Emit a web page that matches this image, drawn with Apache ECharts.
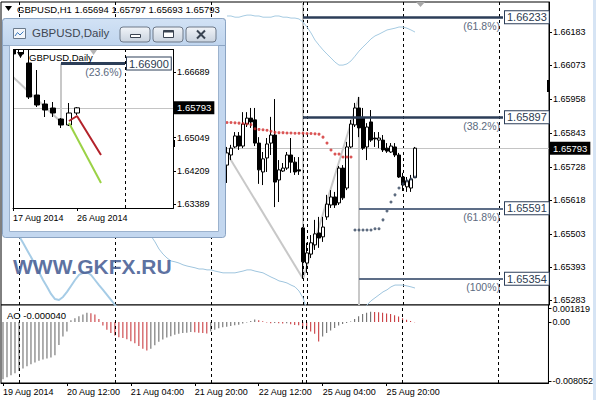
<!DOCTYPE html>
<html><head><meta charset="utf-8">
<script src="https://cdn.jsdelivr.net/npm/echarts@6/dist/echarts.min.js"></script>
<style>html,body{margin:0;padding:0;background:#fff}#c{width:596px;height:400px}</style>
</head><body><div id="c"></div>
<script>
// ================= H1 chart data =================
const h1Count = 137;
const h1Categories = Array.from({length: h1Count}, (_, i) => 'H' + i);
const xTickIndex = [0, 16, 32, 48, 64, 80, 96];
const xTickText = ['19 Aug 2014', '20 Aug 12:00', '21 Aug 04:00', '21 Aug 20:00', '22 Aug 12:00', '25 Aug 04:00', '25 Aug 20:00'];
const separatorIndex = [4, 28, 52, 75, 76, 100, 124];
const priceTicks = [1.66183, 1.66073, 1.65958, 1.65843, 1.65728, 1.65618, 1.65503, 1.65393, 1.65283];
const lastPrice = 1.65793;

const firstBar = 56;
const h1Open  = [1.65736,1.65770,1.65797,1.65834,1.65800,1.65874,1.65894,1.65888,1.65810,1.65713,1.65760,1.65810,1.65837,1.65686,1.65716,1.65726,1.65770,1.65746,1.65720,1.65525,1.65407,1.65437,1.65468,1.65508,1.65495,1.65562,1.65602,1.65629,1.65609,1.65726,1.65659,1.65797,1.65871,1.65928,1.65894,1.65797,1.65881,1.65827,1.65820,1.65820,1.65793,1.65780,1.65797,1.65770,1.65696,1.65663,1.65659,1.65694];
const h1Close = [1.65777,1.65793,1.65834,1.65800,1.65874,1.65894,1.65881,1.65810,1.65720,1.65757,1.65807,1.65837,1.65679,1.65720,1.65726,1.65770,1.65746,1.65713,1.65716,1.65411,1.65441,1.65475,1.65505,1.65491,1.65528,1.65605,1.65629,1.65602,1.65726,1.65626,1.65797,1.65874,1.65928,1.65861,1.65793,1.65864,1.65820,1.65824,1.65827,1.65787,1.65783,1.65800,1.65770,1.65696,1.65669,1.65683,1.65689,1.65793];
const h1Low   = [1.65676,1.65753,1.65793,1.65787,1.65793,1.65864,1.65861,1.65800,1.65673,1.65669,1.65713,1.65770,1.65595,1.65612,1.65713,1.65720,1.65710,1.65703,1.65703,1.65354,1.65374,1.65424,1.65451,1.65458,1.65478,1.65552,1.65592,1.65592,1.65602,1.65619,1.65652,1.65793,1.65864,1.65830,1.65787,1.65753,1.65814,1.65797,1.65793,1.65780,1.65777,1.65777,1.65763,1.65693,1.65649,1.65646,1.65646,1.65693];
const h1High  = [1.65797,1.65804,1.65847,1.65847,1.65914,1.65914,1.65928,1.65928,1.65830,1.65780,1.65827,1.65898,1.65958,1.65753,1.65743,1.65780,1.65827,1.65763,1.65763,1.65528,1.65475,1.65501,1.65552,1.65562,1.65562,1.65636,1.65652,1.65646,1.65733,1.65736,1.65814,1.65888,1.65945,1.65965,1.65928,1.65877,1.65921,1.65847,1.65847,1.65837,1.65810,1.65810,1.65810,1.65777,1.65710,1.65696,1.65703,1.65797];

// Parabolic SAR dots
const sarRedStart = 56;
const sarRed = [1.65879,1.65879,1.65878,1.65877,1.65876,1.65874,1.65872,1.65858,1.65856,1.65855,1.65853,1.65850,1.65846,1.65845,1.65845,1.65844,1.65844,1.65843,1.65843,1.65843,1.65842,1.65842,1.65841,1.65840,1.65830,1.65810,1.65787,1.65773,1.65773,1.65763,1.65763,1.65763];
const sarBlueStart = 88;
const sarBlue = [1.65518,1.65518,1.65518,1.65518,1.65518,1.65522,1.65522,1.65552,1.65582,1.65612,1.65636,1.65659,1.65673,1.65683,1.65689,1.65696];

// band lines
const upperBandStart = 56;
const upperBand = [1.66237,1.66237,1.66233,1.66233,1.66237,1.66240,1.66240,1.66237,1.66237,1.66233,1.66233,1.66233,1.66237,1.66237,1.66233,1.66233,1.66230,1.66230,1.66227,1.66217,1.66200,1.66180,1.66156,1.66139,1.66123,1.66109,1.66096,1.66082,1.66072,1.66072,1.66076,1.66086,1.66102,1.66119,1.66133,1.66146,1.66160,1.66170,1.66176,1.66183,1.66190,1.66193,1.66196,1.66200,1.66200,1.66196,1.66190,1.66183];
const bandAStart = 3;
const bandA = [1.65521,1.65498,1.65475,1.65451,1.65427,1.65401,1.65377,1.65350,1.65327,1.65303,1.65286,1.65283,1.65293,1.65310,1.65330,1.65350,1.65367,1.65374,1.65377,1.65367,1.65350,1.65333,1.65317,1.65300,1.65283,1.65266,1.65246];
const bandBStart = 36;
const bandB = [1.65521,1.65498,1.65478,1.65454,1.65437,1.65424,1.65414,1.65411,1.65407,1.65401,1.65397,1.65394,1.65391,1.65387,1.65387,1.65384,1.65384,1.65380,1.65377,1.65374,1.65374,1.65374,1.65374,1.65377,1.65380,1.65384,1.65384,1.65380,1.65377,1.65374,1.65367,1.65360,1.65354,1.65347,1.65344,1.65340,1.65333,1.65327,1.65313,1.65290,1.65250,1.65223,1.65203,1.65189,1.65179,1.65172,1.65169,1.65169,1.65172,1.65179,1.65189,1.65203,1.65219,1.65236,1.65253,1.65266,1.65280,1.65290,1.65300,1.65310,1.65317,1.65327,1.65333,1.65333,1.65333,1.65330,1.65327,1.65323];

// Fibonacci objects
const fibPrices = [1.66233, 1.65897, 1.65591, 1.65354];
const fibTexts  = ['(61.8%)', '(38.2%)', '(61.8%)', '(100%)'];
const fibStart  = [75, 75, 89, 89];
const fibEnd = 125;
const swingPrevHigh = [55, 1.65797];
const swingLow  = [75, 1.65354];
const swingHigh = [89, 1.65965];

// Awesome Oscillator
const aoTicks = [0.001819, 0, -0.008052];
const aoTickText = ['0.001819', '0.00', '-0.008052'];
const aoValues = [-0.00780,-0.00753,-0.00725,-0.00698,-0.00666,-0.00633,-0.00601,-0.00574,-0.00551,-0.00528,-0.00509,-0.00496,-0.00482,-0.00454,-0.00312,-0.00197,-0.00129,0.00023,0.00050,0.00078,0.00101,0.00124,0.00119,0.00101,0.00041,-0.00050,-0.00106,-0.00151,-0.00184,-0.00207,-0.00220,-0.00234,-0.00262,-0.00289,-0.00326,-0.00363,-0.00390,-0.00363,-0.00317,-0.00271,-0.00239,-0.00211,-0.00193,-0.00174,-0.00161,-0.00151,-0.00147,-0.00138,-0.00142,-0.00147,-0.00151,-0.00156,-0.00129,-0.00106,-0.00087,-0.00073,-0.00064,-0.00055,-0.00046,-0.00037,-0.00023,-0.00009,0.00014,0.00032,0.00023,0.00009,-0.00009,-0.00018,-0.00014,-0.00018,-0.00023,-0.00018,-0.00032,-0.00041,-0.00046,-0.00083,-0.00106,-0.00129,-0.00161,-0.00266,-0.00197,-0.00151,-0.00115,-0.00083,-0.00050,-0.00028,-0.00014,0.00005,0.00041,0.00078,0.00106,0.00124,0.00138,0.00135,0.00133,0.00124,0.00115,0.00106,0.00092,0.00073,0.00050,0.00028,0.00014,-0.00004];

// ================= Daily inset data =================
const dailyCategories = Array.from({length: 21}, (_, i) => 'D' + i);
const dTickIndex = [0, 8];
const dTickText = ['17 Aug 2014', '26 Aug 2014'];
const dPriceTicks = [1.66689, 1.65049, 1.64209, 1.63389];
const dOpen  = [1.67450,1.67139,1.66914,1.66114,1.65889,1.65789,1.65514,1.65364,1.65664];
const dClose = [1.67140,1.67400,1.66064,1.65864,1.65739,1.65664,1.65364,1.65664,1.65793];
const dLow   = [1.67120,1.67050,1.66014,1.65814,1.65564,1.65564,1.65289,1.65339,1.65614];
const dHigh  = [1.67500,1.67450,1.67239,1.66739,1.65989,1.65939,1.65539,1.65914,1.65814];
const dRedLine   = [null,null,null,null,null,null,null,1.65464,1.65589,null,null,1.64614];
const dGreenLine = [null,null,null,null,null,null,null,1.65414,null,null,null,1.63914];
const dFibPrice = 1.66900, dFibText = '(23.6%)', dFibStart = 6, dFibEnd = 14;
const dSwingTop = [0, 1.66564], dSwingLow = [6, 1.65439];
const dSeparator = 14;

// ================= build =================
const FONT = 'Liberation Sans';
function pad(start, arr, total) {
  const out = new Array(total).fill('-');
  arr.forEach((v, k) => { if (v !== null) out[start + k] = v; });
  return out;
}
const candleData = h1Categories.map((_, i) => {
  const k = i - firstBar;
  if (k < 0 || k >= h1Open.length) return ['-','-','-','-'];
  return [h1Open[k], h1Close[k], h1Low[k], h1High[k]];
});
const dCandleData = dOpen.map((o, k) => [o, dClose[k], dLow[k], dHigh[k]]);
const aoData = aoValues.map((v, i) => ({value: v, itemStyle: {color: (i > 0 && v < aoValues[i - 1]) ? '#c42a2f' : '#606060'}}));

const boxLabel = (txt) => ({show: true, position: 'end', distance: 2, formatter: txt, color: '#2b3a50', fontSize: 11, fontFamily: FONT,
  backgroundColor: '#fff', borderColor: '#2c3e58', borderWidth: 1, padding: [1, 2, 0, 2]});
const pctLabel = (txt) => ({show: true, position: 'insideEndBottom', distance: 3, formatter: txt, color: '#5b6a7e', fontSize: 10.5, fontFamily: FONT});
const hiddenLine = {color: 'rgba(0,0,0,0)', width: 1, type: 'solid'};

const fibData = [];
fibPrices.forEach((p, k) => {
  const col = k < 2 ? '#2c3e58' : '#5d6d87';
  fibData.push([{coord: [fibStart[k], p], lineStyle: {color: col, width: k < 2 ? 2.5 : 2, type: 'solid'}, label: boxLabel(p.toFixed(5))}, {coord: [fibEnd, p]}]);
  fibData.push([{coord: [fibStart[k], p], lineStyle: hiddenLine, label: pctLabel(fibTexts[k])}, {coord: [fibEnd, p]}]);
});
const gray = {color: '#c8c8c8', width: 2, type: 'solid'};
const dash = {color: '#000', width: 1, type: [3, 3]};
const bgLineData = [
  [{coord: [swingLow[0], 1.66284], lineStyle: gray}, {coord: swingLow}],
  [{coord: swingHigh, lineStyle: gray}, {coord: [swingHigh[0], 1.65266]}],
  [{coord: swingPrevHigh, lineStyle: gray}, {coord: swingLow}],
  [{coord: swingLow, lineStyle: gray}, {coord: swingHigh}]
].concat(separatorIndex.map(i => ({xAxis: i, lineStyle: dash})));

const xInterval = (idx) => xTickIndex.indexOf(idx) >= 0;
const dInterval = (idx) => dTickIndex.indexOf(idx) >= 0;
const noLabel = {show: false};
const blackLabel = (txt) => ({show: true, position: 'end', distance: 1, formatter: txt, color: '#fff', backgroundColor: '#000', padding: [2, 3, 1, 3], fontSize: 9.5, fontFamily: FONT});

const T = (x, y, text, size, fill, z) => ({type: 'text', z: z || 50, style: {x, y, text, fontSize: size, fontFamily: FONT, fill: fill, textVerticalAlign: 'middle', verticalAlign: 'middle'}});
const header = 'GBPUSD,H1 ' + [h1Open[h1Open.length - 1], h1High[h1High.length - 1], h1Low[h1Low.length - 1], h1Close[h1Close.length - 1]].map(v => v.toFixed(5)).join(' ');
const btn = (x) => ({type: 'rect', z: 71, shape: {x: x, y: 27, width: 30, height: 15, r: 3},
  style: {fill: new echarts.graphic.LinearGradient(0, 0, 0, 1, [{offset: 0, color: '#f1f4f8'}, {offset: 1, color: '#c9d3df'}]), stroke: '#6d7888', lineWidth: 1}});
const frameFill = () => new echarts.graphic.LinearGradient(0, 0, 0, 1, [{offset: 0, color: '#d2e2f5'}, {offset: 1, color: '#c0d5ee'}]);

const watermark = T(13, 266, 'WWW.GKFX.RU', 21, 'rgba(72,94,148,0.88)', 50);
watermark.style.fontWeight = 'bold';

const graphics = [
  {type: 'polygon', z: 50, shape: {points: [[5, 6], [12, 6], [8.5, 11]]}, style: {fill: '#000'}},
  T(17, 9, header, 9.5, '#000'),
  {type: 'polygon', z: 50, shape: {points: [[416, 2], [425, 2], [420.5, 7]]}, style: {fill: '#a8a8a8'}},
  {type: 'rect', z: 50, shape: {x: 547, y: 80, width: 3, height: 12}, style: {fill: '#000'}},
  {type: 'rect', z: 50, shape: {x: 593, y: 0, width: 3, height: 400}, style: {fill: '#d6e4f4'}},
  // inset window frame (below the inset series)
  {type: 'rect', z: 50, shape: {x: 2.5, y: 18.5, width: 223, height: 219, r: 3}, style: {fill: '#c3d7ef', stroke: '#8ba4c3', lineWidth: 1}},
  {type: 'rect', z: 50, shape: {x: 9.5, y: 45.5, width: 209, height: 186}, style: {fill: '#fff', stroke: '#9cb2cd', lineWidth: 1}},
  // title bar and masks (above the inset series)
  {type: 'rect', z: 70, shape: {x: 2.5, y: 18.5, width: 223, height: 27, r: [3, 3, 0, 0]}, style: {fill: frameFill(), stroke: '#8ba4c3', lineWidth: 1}},
  {type: 'line', z: 70, shape: {x1: 9.5, y1: 45.5, x2: 218.5, y2: 45.5}, style: {stroke: '#9cb2cd', lineWidth: 1}},
  {type: 'rect', z: 70, shape: {x: 10, y: 46, width: 208, height: 3}, style: {fill: '#fff'}},
  {type: 'rect', z: 70, shape: {x: 10, y: 46, width: 3, height: 162}, style: {fill: '#fff'}},
  {type: 'rect', z: 71, shape: {x: 13.5, y: 28.5, width: 12, height: 10}, style: {fill: '#f3f6fa', stroke: '#6a7a8c', lineWidth: 1}},
  {type: 'polyline', z: 72, shape: {points: [[15, 36], [17.5, 32.5], [20, 35], [23.5, 31.5]]}, style: {stroke: '#3a7abf', lineWidth: 1, fill: 'none'}},
  T(32, 33, 'GBPUSD,Daily', 11.5, '#3f4853', 71),
  btn(120), btn(153), btn(186),
  {type: 'rect', z: 72, shape: {x: 130.5, y: 34.5, width: 10, height: 3}, style: {fill: '#fff', stroke: '#3a4452', lineWidth: 1}},
  {type: 'rect', z: 72, shape: {x: 163.5, y: 30.5, width: 10, height: 7}, style: {fill: '#fff', stroke: '#3a4452', lineWidth: 1}},
  {type: 'line', z: 72, shape: {x1: 163.5, y1: 31.5, x2: 173.5, y2: 31.5}, style: {stroke: '#3a4452', lineWidth: 2}},
  {type: 'line', z: 72, shape: {x1: 197, y1: 30.5, x2: 205, y2: 38.5}, style: {stroke: '#3a4452', lineWidth: 2}},
  {type: 'line', z: 72, shape: {x1: 205, y1: 30.5, x2: 197, y2: 38.5}, style: {stroke: '#3a4452', lineWidth: 2}},
  // inset plot decorations
  {type: 'rect', z: 73, shape: {x: 13.5, y: 49.5, width: 160, height: 159}, style: {fill: 'none', stroke: '#000', lineWidth: 1}},
  {type: 'polygon', z: 73, shape: {points: [[17, 52], [24, 52], [20.5, 58]]}, style: {fill: '#000'}},
  {type: 'polygon', z: 73, shape: {points: [[90, 50], [97, 50], [93.5, 55]]}, style: {fill: '#b5b5b5'}},
  {type: 'rect', z: 73, shape: {x: 173, y: 140, width: 2, height: 7}, style: {fill: '#000'}},
  T(29, 57, 'GBPUSD,Daily', 9.5, '#000', 73),
  watermark,
  T(7, 315, 'AO -0.000040', 9.5, '#000')
];

const option = {
  animation: false,
  backgroundColor: '#fff',
  textStyle: {fontFamily: FONT},
  grid: [
    {left: 1, top: 2, width: 548, height: 303, show: true, backgroundColor: '#fff', borderColor: '#000', borderWidth: 1},
    {left: 1, top: 305, width: 548, height: 78, show: true, backgroundColor: '#fff', borderColor: '#000', borderWidth: 1},
    {left: 13, top: 49, width: 160, height: 159, show: false, z: 55}
  ],
  xAxis: [
    {type: 'category', gridIndex: 0, data: h1Categories, boundaryGap: true, axisLine: {show: false}, axisTick: {show: false}, axisLabel: noLabel, splitLine: {show: false}},
    {type: 'category', gridIndex: 1, data: h1Categories, boundaryGap: true,
      axisLine: {show: true, onZero: false, lineStyle: {color: '#000'}},
      axisTick: {show: true, alignWithLabel: true, interval: xInterval, length: 3, lineStyle: {color: '#000'}},
      axisLabel: {interval: xInterval, formatter: (v, idx) => xTickText[xTickIndex.indexOf(idx)], align: 'left', margin: 4, fontSize: 9, color: '#000', hideOverlap: false},
      splitLine: {show: false}},
    {type: 'category', gridIndex: 2, data: dailyCategories, boundaryGap: false, z: 60,
      axisLine: {show: true, onZero: false, lineStyle: {color: '#000'}},
      axisTick: {show: true, interval: dInterval, length: 3, lineStyle: {color: '#000'}},
      axisLabel: {interval: dInterval, formatter: (v, idx) => dTickText[dTickIndex.indexOf(idx)], align: 'left', margin: 5, fontSize: 9, color: '#000'},
      splitLine: {show: false}}
  ],
  yAxis: [
    {type: 'value', gridIndex: 0, position: 'right', min: 1.65266, max: 1.66284, splitLine: {show: false},
      axisLine: {show: true, lineStyle: {color: '#000'}},
      axisTick: {show: true, length: 3, customValues: priceTicks, lineStyle: {color: '#000'}},
      axisLabel: {customValues: priceTicks, formatter: v => v.toFixed(5), margin: 4, fontSize: 9, color: '#000'}},
    {type: 'value', gridIndex: 1, position: 'right', min: -0.0083, max: 0.0023, splitLine: {show: false},
      axisLine: {show: true, lineStyle: {color: '#000'}},
      axisTick: {show: true, length: 3, customValues: aoTicks, lineStyle: {color: '#000'}},
      axisLabel: {customValues: aoTicks, formatter: v => aoTickText[aoTicks.indexOf(v)], margin: 4, fontSize: 9, color: '#000'}},
    {type: 'value', gridIndex: 2, position: 'right', min: 1.63289, max: 1.67264, z: 60, splitLine: {show: false},
      axisLine: {show: true, lineStyle: {color: '#000'}},
      axisTick: {show: true, length: 3, customValues: dPriceTicks, lineStyle: {color: '#000'}},
      axisLabel: {customValues: dPriceTicks, formatter: v => v.toFixed(5), margin: 4, fontSize: 9, color: '#000'}}
  ],
  series: [
    {type: 'line', name: 'fibo-base', xAxisIndex: 0, yAxisIndex: 0, data: [], z: 1,
      markLine: {z: 1, silent: true, symbol: ['none', 'none'], label: {show: false}, animation: false, data: bgLineData}},
    {type: 'line', name: 'upper', xAxisIndex: 0, yAxisIndex: 0, z: 2, showSymbol: false, symbol: 'none',
      data: pad(upperBandStart, upperBand, h1Count), lineStyle: {color: '#a6cbe2', width: 1}},
    {type: 'line', name: 'lowerA', xAxisIndex: 0, yAxisIndex: 0, z: 2, showSymbol: false, symbol: 'none',
      data: pad(bandAStart, bandA, h1Count), lineStyle: {color: '#a6cce6', width: 2}},
    {type: 'line', name: 'lowerB', xAxisIndex: 0, yAxisIndex: 0, z: 2, showSymbol: false, symbol: 'none',
      data: pad(bandBStart, bandB, h1Count), lineStyle: {color: '#9fc5de', width: 1}},
    {type: 'line', name: 'price-line', xAxisIndex: 0, yAxisIndex: 0, data: [], z: 2,
      markLine: {z: 2, silent: true, symbol: ['none', 'none'], animation: false,
        data: [[{coord: [0, lastPrice], lineStyle: {color: '#c4c4c4', width: 1, type: 'solid'}, label: blackLabel(lastPrice.toFixed(5))}, {coord: [h1Count - 1, lastPrice], x: 549}]]}},
    {type: 'candlestick', name: 'GBPUSD,H1', xAxisIndex: 0, yAxisIndex: 0, z: 3, barWidth: 3, data: candleData,
      itemStyle: {color: '#fff', color0: '#000', borderColor: '#000', borderColor0: '#000', borderWidth: 1}},
    {type: 'scatter', name: 'sarDown', xAxisIndex: 0, yAxisIndex: 0, z: 4, symbolSize: 3, data: pad(sarRedStart, sarRed, h1Count), itemStyle: {color: '#d12b2b'}},
    {type: 'scatter', name: 'sarUp', xAxisIndex: 0, yAxisIndex: 0, z: 4, symbolSize: 3, data: pad(sarBlueStart, sarBlue, h1Count), itemStyle: {color: '#34465f'}},
    {type: 'line', name: 'fibo', xAxisIndex: 0, yAxisIndex: 0, data: [], z: 5,
      markLine: {z: 5, silent: true, symbol: ['none', 'none'], animation: false, data: fibData}},
    {type: 'bar', name: 'AO', xAxisIndex: 1, yAxisIndex: 1, barWidth: 1, data: aoData, z: 2},
    {type: 'line', name: 'ao-sep', xAxisIndex: 1, yAxisIndex: 1, data: [], z: 3,
      markLine: {z: 3, silent: true, symbol: ['none', 'none'], label: {show: false}, animation: false, data: separatorIndex.map(i => ({xAxis: i, lineStyle: dash}))}},
    {type: 'line', name: 'daily-objects', xAxisIndex: 2, yAxisIndex: 2, data: [], z: 61,
      markLine: {z: 61, silent: true, symbol: ['none', 'none'], animation: false, data: [
        [{coord: [0, lastPrice], lineStyle: {color: '#c4c4c4', width: 1, type: 'solid'}, label: blackLabel(lastPrice.toFixed(5))}, {coord: [dailyCategories.length - 1, lastPrice]}],
        {xAxis: dSeparator, lineStyle: dash, label: {show: false}},
        [{coord: [dFibStart, dFibPrice], lineStyle: gray, label: {show: false}}, {coord: dSwingLow}],
        [{coord: dSwingTop, lineStyle: gray, label: {show: false}}, {coord: dSwingLow}]
      ]}},
    {type: 'candlestick', name: 'GBPUSD,Daily', xAxisIndex: 2, yAxisIndex: 2, z: 62, barWidth: 5, data: dCandleData,
      itemStyle: {color: '#fff', color0: '#000', borderColor: '#000', borderColor0: '#000', borderWidth: 1}},
    {type: 'line', name: 'forecastRed', xAxisIndex: 2, yAxisIndex: 2, z: 63, showSymbol: false, symbol: 'none', connectNulls: true,
      data: dRedLine.map(v => v === null ? '-' : v), lineStyle: {color: '#b3222a', width: 2}},
    {type: 'line', name: 'forecastGreen', xAxisIndex: 2, yAxisIndex: 2, z: 63, showSymbol: false, symbol: 'none', connectNulls: true,
      data: dGreenLine.map(v => v === null ? '-' : v), lineStyle: {color: '#9bd246', width: 2}},
    {type: 'line', name: 'daily-fibo', xAxisIndex: 2, yAxisIndex: 2, data: [], z: 64,
      markLine: {z: 66, silent: true, symbol: ['none', 'none'], animation: false, data: [
        [{coord: [dFibStart, dFibPrice], lineStyle: {color: '#2c3e58', width: 3, type: 'solid'}, label: boxLabel(dFibPrice.toFixed(5))}, {coord: [dFibEnd, dFibPrice]}],
        [{coord: [dFibStart, dFibPrice], lineStyle: hiddenLine, label: pctLabel(dFibText)}, {coord: [dFibEnd, dFibPrice]}]
      ]}}
  ],
  graphic: {elements: graphics}
};
const chart = echarts.init(document.getElementById('c'), null, {renderer: 'svg', width: 596, height: 400});
chart.setOption(option);
</script></body></html>
